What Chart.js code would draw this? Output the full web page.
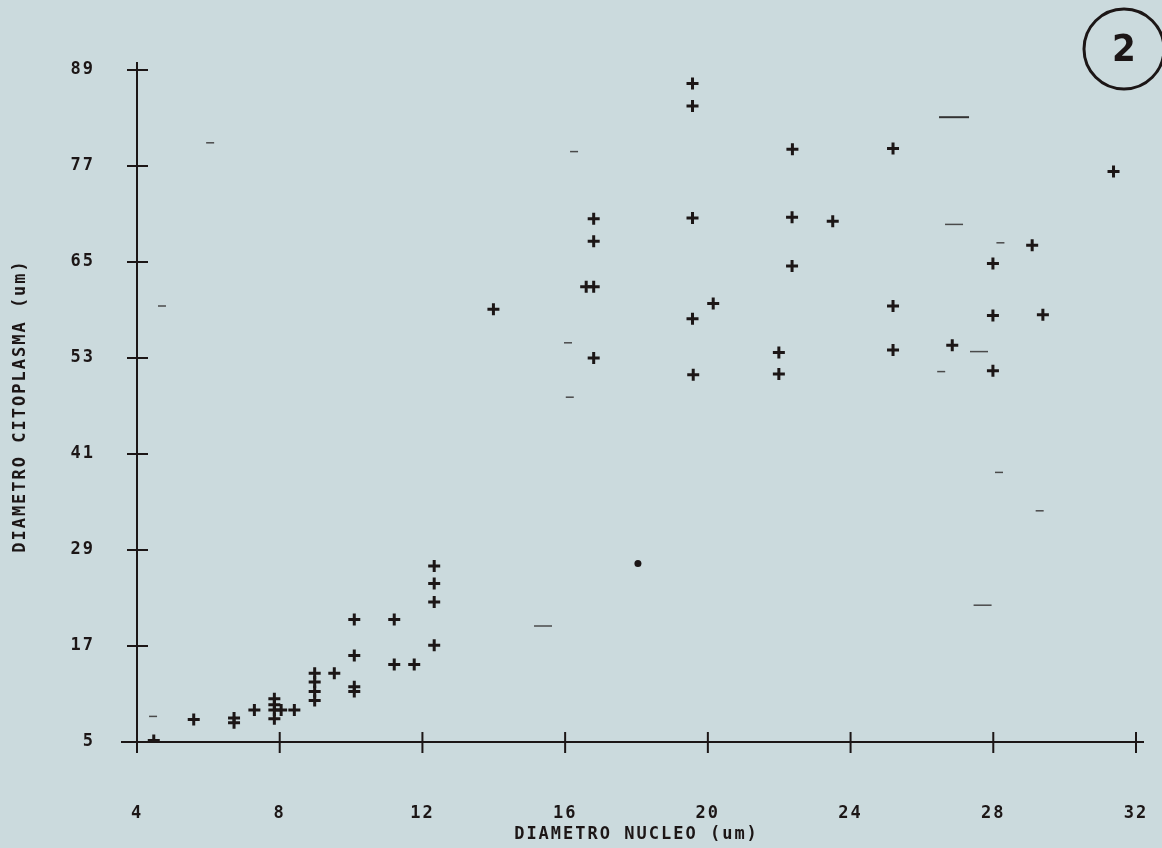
<!DOCTYPE html>
<html>
<head>
<meta charset="utf-8">
<script src="https://cdn.jsdelivr.net/npm/chart.js@4.4.1/dist/chart.umd.min.js"></script>
<style>
  html, body { margin: 0; padding: 0; background: #cbdadd; }
  #wrap { width: 1162px; height: 848px; position: relative; }
</style>
</head>
<body>
<div id="wrap"><canvas id="chart" width="1162" height="848"></canvas></div>
<script>
// tick labels
var xTicks = [4, 8, 12, 16, 20, 24, 28, 32];
var yTicks = [5, 17, 29, 41, 53, 65, 77, 89];

// plotted "+" marks: nucleus diameter (x) vs cytoplasm diameter (y), um
var nucleo = [4.47, 5.59, 6.72, 6.72, 7.29, 7.85, 7.85, 7.85, 8.04, 7.85, 8.41,
  8.98, 8.98, 8.98, 8.98, 9.53, 10.09, 10.09, 10.09, 10.09, 11.21, 11.21, 11.77,
  12.33, 12.33, 12.33, 12.33, 13.99, 16.59, 16.80, 16.80, 16.80, 16.80,
  19.57, 19.57, 19.57, 19.57, 19.59, 20.15, 21.99, 21.99, 22.37, 22.36, 22.36,
  23.50, 25.19, 25.19, 25.19, 26.85, 27.99, 27.99, 27.99, 29.09, 29.39, 31.37];
var citoplasma = [5.2, 7.8, 8.0, 7.4, 9.0, 10.4, 9.65, 9.0, 9.0, 7.9, 9.0,
  13.6, 12.5, 11.3, 10.2, 13.6, 20.3, 15.8, 11.9, 11.3, 20.3, 14.7, 14.7,
  27.0, 24.8, 22.5, 17.1, 59.1, 61.9, 61.9, 70.4, 67.6, 53.0,
  87.3, 84.5, 70.5, 57.9, 50.9, 59.8, 53.7, 51.0, 79.1, 70.6, 64.5,
  70.1, 79.2, 59.5, 54.0, 54.6, 64.8, 58.3, 51.4, 67.1, 58.4, 76.3];

// faint "-" marks on the plot
var dashShortX = [4.45, 6.05, 4.70, 16.25, 16.08, 16.13, 28.16, 29.30, 28.20, 26.54];
var dashShortY = [8.2, 79.9, 59.5, 78.8, 54.9, 48.1, 38.7, 33.9, 67.4, 51.3];
var dashMidX = [26.9, 27.6, 15.38, 27.7];
var dashMidY = [69.7, 53.8, 19.5, 22.1];
var dashLongX = [26.9];
var dashLongY = [83.1];

// single filled dot
var dotX = [18.04];
var dotY = [27.3];

function pairs(xs, ys) {
    var out = [];
    for (var i = 0; i < xs.length; i++) out.push({ x: xs[i], y: ys[i] });
    return out;
}

var ink = '#1c1616';
var mono = '"DejaVu Sans Mono", monospace';

// plotter-style axes: long lines with ticks crossing them, plus the figure number
var plotterAxes = {
    id: 'plotterAxes',
    beforeDraw: function (chart) {
        chart.ctx.letterSpacing = '2px';
    },
    afterDraw: function (chart) {
        var ctx = chart.ctx;
        var a = chart.chartArea;
        var xs = chart.scales.x, ys = chart.scales.y;
        ctx.save();
        ctx.strokeStyle = ink;
        ctx.lineWidth = 2;
        ctx.beginPath();
        ctx.moveTo(a.left, a.top - 8);
        ctx.lineTo(a.left, a.bottom + 6);
        ctx.moveTo(a.left - 16, a.bottom);
        ctx.lineTo(a.right + 8, a.bottom);
        xs.ticks.forEach(function (t) {
            var x = xs.getPixelForValue(t.value);
            ctx.moveTo(x, a.bottom - 10);
            ctx.lineTo(x, a.bottom + 11);
        });
        ys.ticks.forEach(function (t) {
            var y = ys.getPixelForValue(t.value);
            ctx.moveTo(a.left - 10, y);
            ctx.lineTo(a.left + 11, y);
        });
        ctx.stroke();

        // circled "2"
        ctx.lineWidth = 3;
        ctx.beginPath();
        ctx.arc(1124, 49, 40, 0, 2 * Math.PI);
        ctx.stroke();
        ctx.letterSpacing = '0px';
        ctx.fillStyle = ink;
        ctx.font = 'bold 38px "DejaVu Sans Condensed", sans-serif';
        ctx.textAlign = 'center';
        ctx.textBaseline = 'middle';
        ctx.fillText('2', 1124, 51);
        ctx.restore();
    }
};

var ctx = document.getElementById('chart').getContext('2d');
new Chart(ctx, {
    type: 'scatter',
    data: {
        datasets: [
            {
                data: pairs(dashShortX, dashShortY),
                pointStyle: 'line', pointRadius: 4, borderColor: '#4a4a4a', borderWidth: 1.5
            },
            {
                data: pairs(dashMidX, dashMidY),
                pointStyle: 'line', pointRadius: 9, borderColor: '#4a4a4a', borderWidth: 1.5
            },
            {
                data: pairs(dashLongX, dashLongY),
                pointStyle: 'line', pointRadius: 15, borderColor: '#333', borderWidth: 2
            },
            {
                data: pairs(dotX, dotY),
                pointStyle: 'circle', pointRadius: 3.5, backgroundColor: ink, borderColor: ink, borderWidth: 0
            },
            {
                data: pairs(nucleo, citoplasma),
                pointStyle: 'cross', pointRadius: 6, borderColor: ink, borderWidth: 3
            }
        ]
    },
    options: {
        responsive: false,
        animation: false,
        events: [],
        layout: { padding: { top: 70, right: 26, left: 0, bottom: 0 } },
        plugins: { legend: { display: false }, tooltip: { enabled: false } },
        scales: {
            x: {
                type: 'linear', min: 4, max: 32,
                afterBuildTicks: function (s) { s.ticks = xTicks.map(function (v) { return { value: v }; }); },
                afterFit: function (s) { s.height = 106; s.paddingLeft = 0; s.paddingRight = 0; },
                grid: { display: false, drawTicks: false },
                border: { display: false },
                ticks: { color: ink, padding: 61, maxRotation: 0, font: { family: mono, size: 17, weight: 'bold' } },
                title: {
                    display: true, text: 'DIAMETRO NUCLEO (um)', color: ink,
                    font: { family: mono, size: 17, weight: 'bold' }, padding: { top: 0, bottom: 3 }
                }
            },
            y: {
                type: 'linear', min: 5, max: 89,
                afterBuildTicks: function (s) { s.ticks = yTicks.map(function (v) { return { value: v }; }); },
                afterFit: function (s) { s.width = 137; s.paddingTop = 0; s.paddingBottom = 0; },
                grid: { display: false, drawTicks: false },
                border: { display: false },
                ticks: { color: ink, padding: 42, font: { family: mono, size: 17, weight: 'bold' } },
                title: {
                    display: true, text: 'DIAMETRO CITOPLASMA (um)', color: ink,
                    font: { family: mono, size: 17, weight: 'bold' }, padding: { top: 10, bottom: 0 }
                }
            }
        }
    },
    plugins: [plotterAxes]
});
</script>
</body>
</html>
